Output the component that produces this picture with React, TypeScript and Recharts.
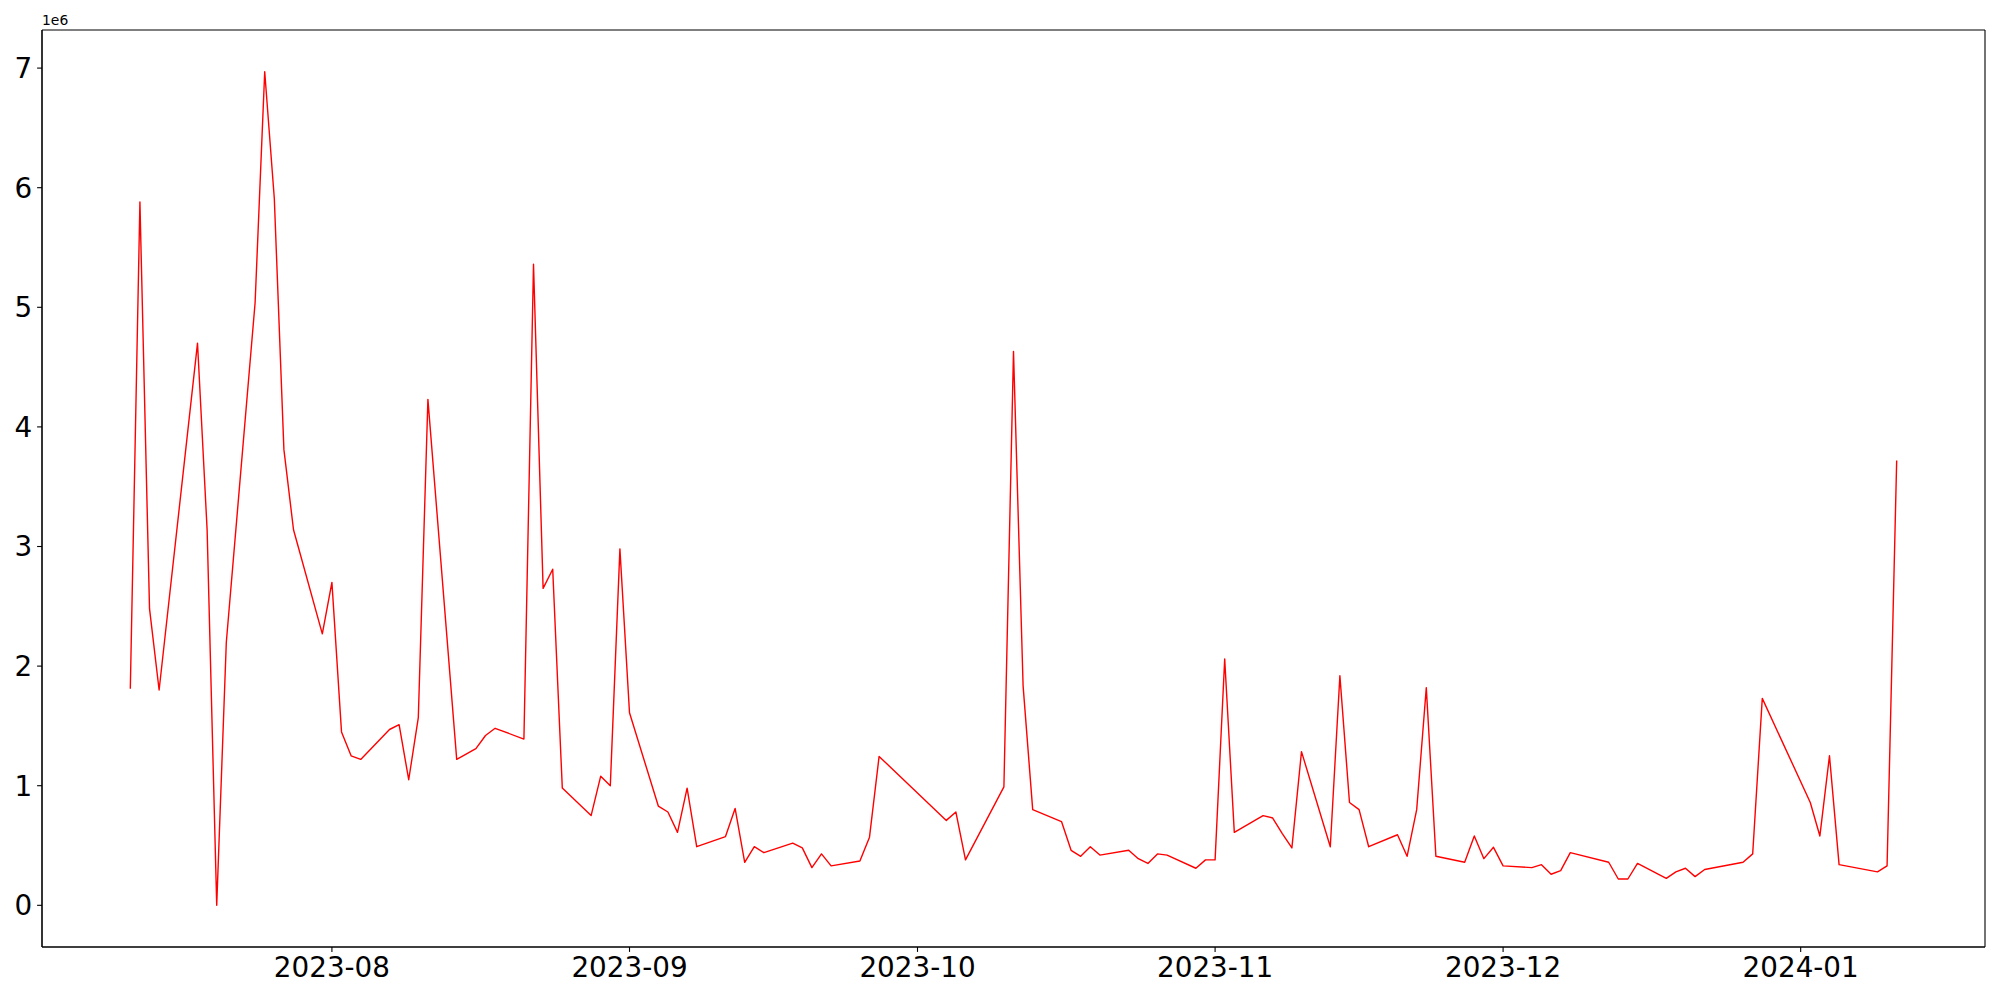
import { LineChart, Line, XAxis, YAxis, CartesianGrid } from "recharts";

// daily observations (gaps are days with no record)
const dates = [
  "2023-07-11", "2023-07-12", "2023-07-13", "2023-07-14", "2023-07-18", "2023-07-19", "2023-07-20", "2023-07-21",
  "2023-07-24", "2023-07-25", "2023-07-26", "2023-07-27", "2023-07-28", "2023-07-31",
  "2023-08-01", "2023-08-02", "2023-08-03", "2023-08-04", "2023-08-07", "2023-08-08", "2023-08-09", "2023-08-10",
  "2023-08-11", "2023-08-14", "2023-08-16", "2023-08-17", "2023-08-18", "2023-08-21", "2023-08-22", "2023-08-23",
  "2023-08-24", "2023-08-25", "2023-08-28", "2023-08-29", "2023-08-30", "2023-08-31",
  "2023-09-01", "2023-09-04", "2023-09-05", "2023-09-06", "2023-09-07", "2023-09-08", "2023-09-11", "2023-09-12",
  "2023-09-13", "2023-09-14", "2023-09-15", "2023-09-18", "2023-09-19", "2023-09-20", "2023-09-21", "2023-09-22",
  "2023-09-25", "2023-09-26", "2023-09-27",
  "2023-10-04", "2023-10-05", "2023-10-06", "2023-10-10", "2023-10-11", "2023-10-12", "2023-10-13", "2023-10-16",
  "2023-10-17", "2023-10-18", "2023-10-19", "2023-10-20", "2023-10-23", "2023-10-24", "2023-10-25", "2023-10-26",
  "2023-10-27", "2023-10-30", "2023-10-31",
  "2023-11-01", "2023-11-02", "2023-11-03", "2023-11-06", "2023-11-07", "2023-11-08", "2023-11-09", "2023-11-10",
  "2023-11-13", "2023-11-14", "2023-11-15", "2023-11-16", "2023-11-17", "2023-11-20", "2023-11-21", "2023-11-22",
  "2023-11-23", "2023-11-24", "2023-11-27", "2023-11-28", "2023-11-29", "2023-11-30",
  "2023-12-01", "2023-12-04", "2023-12-05", "2023-12-06", "2023-12-07", "2023-12-08", "2023-12-12", "2023-12-13",
  "2023-12-14", "2023-12-15", "2023-12-18", "2023-12-19", "2023-12-20", "2023-12-21", "2023-12-22", "2023-12-26",
  "2023-12-27", "2023-12-28",
  "2024-01-02", "2024-01-03", "2024-01-04", "2024-01-05", "2024-01-09", "2024-01-10", "2024-01-11",
];

// values in millions
const values = [
  1.81, 5.88, 2.48, 1.8, 4.7, 3.14, 0.0, 2.2,
  5.04, 6.97, 5.91, 3.81, 3.14, 2.27,
  2.7, 1.45, 1.25, 1.22, 1.47, 1.51, 1.05, 1.57,
  4.23, 1.22, 1.31, 1.42, 1.48, 1.39, 5.36, 2.65,
  2.81, 0.98, 0.75, 1.08, 1.0, 2.98,
  1.61, 0.83, 0.78, 0.61, 0.98, 0.49, 0.575, 0.81,
  0.36, 0.49, 0.44, 0.52, 0.48, 0.315, 0.43, 0.33,
  0.37, 0.57, 1.245,
  0.71, 0.78, 0.38, 0.99, 4.63, 1.835, 0.8, 0.7,
  0.46, 0.41, 0.49, 0.42, 0.46, 0.39, 0.35, 0.43,
  0.42, 0.31, 0.38,
  0.38, 2.06, 0.61, 0.75, 0.73, 0.6, 0.48, 1.285,
  0.49, 1.92, 0.86, 0.8, 0.49, 0.59, 0.41, 0.8,
  1.82, 0.41, 0.36, 0.58, 0.39, 0.485,
  0.33, 0.315, 0.34, 0.26, 0.29, 0.44, 0.36, 0.22,
  0.22, 0.35, 0.225, 0.28, 0.31, 0.24, 0.3, 0.36,
  0.43, 1.73,
  0.86, 0.58, 1.25, 0.34, 0.28, 0.33, 3.72,
];

const monthTicks = ["2023-08-01", "2023-09-01", "2023-10-01", "2023-11-01", "2023-12-01", "2024-01-01"];
const yTicks = [0, 1, 2, 3, 4, 5, 6, 7];

const toTs = (s: string) => Date.parse(s + "T00:00:00Z");

const rows = dates.map((d, i) => ({ t: toTs(d), v: values[i] * 1e6 }));

// matplotlib-style 5% padding around the data
function padded(nums: number[]): [number, number] {
  const lo = Math.min(...nums);
  const hi = Math.max(...nums);
  const pad = (hi - lo) * 0.05;
  return [lo - pad, hi + pad];
}

const xDomain = padded(rows.map((r) => r.t));
const yDomain = padded(rows.map((r) => r.v));

const fmtMonth = (ts: number) => {
  const d = new Date(ts);
  return `${d.getUTCFullYear()}-${String(d.getUTCMonth() + 1).padStart(2, "0")}`;
};

const tickFont = { fill: "#000", fontSize: 27.8, fontFamily: "DejaVu Sans" };

export default function App() {
  return (
    <div style={{ position: "absolute", left: 0, top: 0, width: 2000, height: 1000, background: "#fff" }}>
      <LineChart width={2000} height={1000} data={rows} margin={{ top: 30, right: 15, bottom: 0, left: 0 }}>
        {/* frame around the plot area (matplotlib spines) */}
        <CartesianGrid
          stroke="#000"
          strokeWidth={1.1}
          fill="none"
          horizontalCoordinatesGenerator={({ offset }: any) => [offset.top, offset.top + offset.height]}
          verticalCoordinatesGenerator={({ offset }: any) => [offset.left, offset.left + offset.width]}
        />
        <XAxis
          dataKey="t"
          type="number"
          domain={xDomain}
          allowDataOverflow
          ticks={monthTicks.map(toTs)}
          tickFormatter={fmtMonth}
          height={53}
          tick={tickFont}
          tickSize={4.9}
          tickMargin={4.9}
          stroke="#000"
          axisLine={{ stroke: "#000", strokeWidth: 1.1 }}
          tickLine={{ stroke: "#000", strokeWidth: 1.1 }}
        />
        <YAxis
          dataKey="v"
          type="number"
          domain={yDomain}
          allowDataOverflow
          ticks={yTicks.map((v) => v * 1e6)}
          tickFormatter={(v: number) => String(Math.round(v / 1e6))}
          width={42}
          tick={tickFont}
          tickSize={4.9}
          tickMargin={4.9}
          stroke="#000"
          axisLine={{ stroke: "#000", strokeWidth: 1.1 }}
          tickLine={{ stroke: "#000", strokeWidth: 1.1 }}
        />
        <Line
          type="linear"
          dataKey="v"
          stroke="#ff0000"
          strokeWidth={1.4}
          strokeLinejoin="round"
          dot={false}
          activeDot={false}
          isAnimationActive={false}
        />
      </LineChart>
      <div style={{ position: "absolute", left: 42, top: 14, fontSize: 13.9, lineHeight: 1, fontFamily: "DejaVu Sans", color: "#000" }}>
        1e6
      </div>
    </div>
  );
}
